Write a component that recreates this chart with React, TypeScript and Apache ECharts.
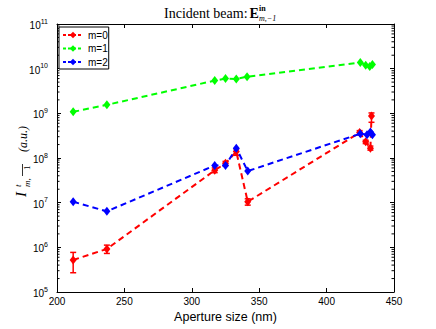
import React, { useEffect, useRef } from "react";
import * as echarts from "echarts";

const seriesNames = ["m=0", "m=1", "m=2"];
const seriesColors = ["#ff0000", "#00ff00", "#0000ff"];

// m=0 (red) with error bars
const redX = [212, 237, 317, 325, 333, 341.5, 424.5, 429, 432.5, 433.3];
const redY = [5.2e5, 9.2e5, 5.3e7, 7.6e7, 1.39e8, 1.05e7, 3.7e8, 2.3e8, 1.66e8, 8.7e8];
const redLow = [2.7e5, 7.3e5, 4.7e7, 6.8e7, 1.15e8, 8.8e6, 3.3e8, 2.1e8, 1.5e8, 6.3e8];
const redHigh = [7.7e5, 1.12e6, 6.0e7, 8.4e7, 1.6e8, 1.22e7, 4.1e8, 2.5e8, 1.85e8, 1.02e9];

// m=1 (green)
const greenX = [212, 237, 317, 325, 333, 341, 425, 429, 432, 434];
const greenY = [1.08e9, 1.55e9, 5.4e9, 6.0e9, 5.9e9, 6.6e9, 1.38e10, 1.2e10, 1.12e10, 1.24e10];

// m=2 (blue)
const blueX = [212, 237, 317, 325, 333, 341.5, 425, 430, 432.5, 434];
const blueY = [1.05e7, 6.4e6, 6.8e7, 6.8e7, 1.66e8, 5.1e7, 3.5e8, 3.3e8, 3.8e8, 3.3e8];

const xMin = 200;
const xMax = 450;
const xStep = 50;
const yMinExp = 5;
const yMaxExp = 11;
const minorMultipliers = [2, 3, 4, 5, 6, 7, 8, 9];

const SANS = "Liberation Sans, Arial, Helvetica, sans-serif";
const SERIF = "Liberation Serif, Times New Roman, serif";

export default function App() {
  const ref = useRef<HTMLDivElement>(null);

  useEffect(() => {
    if (!ref.current) return;
    const chart = echarts.init(ref.current, undefined, { renderer: "svg" });

    const minorData: number[][] = [];
    for (let e = yMinExp; e < yMaxExp; e++) {
      for (const m of minorMultipliers) minorData.push([xMin, m * Math.pow(10, e)]);
    }

    const lineSeries = (name: string, color: string, xs: number[], ys: number[], z: number) => ({
      name,
      type: "line",
      xAxisIndex: 0,
      yAxisIndex: 0,
      data: xs.map((x, i) => [x, ys[i]]),
      symbol: "diamond",
      symbolSize: [7, 9],
      showSymbol: true,
      z,
      lineStyle: { color, width: 2, type: [6, 4] },
      itemStyle: { color, borderWidth: 0 },
      emphasis: { disabled: true },
    });

    const axisCommonY = {
      type: "log",
      logBase: 10,
      min: Math.pow(10, yMinExp),
      max: Math.pow(10, yMaxExp),
      splitNumber: yMaxExp - yMinExp,
      splitLine: { show: false },
      minorTick: { show: false },
      axisLine: { show: true, lineStyle: { color: "#000", width: 1 } },
      axisTick: { show: true, inside: true, length: 4, lineStyle: { color: "#000", width: 1 } },
    };

    const axisCommonX = {
      type: "value",
      min: xMin,
      max: xMax,
      interval: xStep,
      splitLine: { show: false },
      axisLine: { show: true, onZero: false, lineStyle: { color: "#000", width: 1 } },
      axisTick: { show: true, inside: true, length: 4, lineStyle: { color: "#000", width: 1 } },
    };

    const option: any = {
      animation: false,
      backgroundColor: "#fff",
      grid: { left: 57, right: 42, top: 24, bottom: 37, containLabel: false },
      xAxis: [
        {
          ...axisCommonX,
          position: "bottom",
          axisLabel: { color: "#000", fontSize: 10, fontFamily: SANS, margin: 4 },
          name: "Aperture size (nm)",
          nameLocation: "middle",
          nameGap: 11,
          nameTextStyle: { color: "#000", fontSize: 12.5, fontFamily: SANS },
        },
        {
          ...axisCommonX,
          position: "top",
          axisLabel: { show: false },
        },
      ],
      yAxis: [
        {
          ...axisCommonY,
          position: "left",
          axisLabel: {
            margin: 9,
            formatter: (v: number) => `{b|10}{s|${Math.round(Math.log10(v))}}`,
            rich: {
              b: { fontSize: 10, fontFamily: SANS, color: "#000", padding: [3, 0, 0, 0], verticalAlign: "bottom" },
              s: { fontSize: 7, fontFamily: SANS, color: "#000", verticalAlign: "top" },
            },
          },
        },
        {
          ...axisCommonY,
          position: "right",
          axisLabel: { show: false },
        },
      ],
      legend: {
        data: seriesNames,
        orient: "vertical",
        left: 59,
        top: 27,
        itemWidth: 20,
        itemHeight: 8,
        itemGap: 3.5,
        padding: [3, 1, 2, 3],
        borderColor: "#000",
        borderWidth: 1,
        backgroundColor: "#fff",
        lineStyle: { type: [3, 2], width: 2 },
        textStyle: { color: "#000", fontSize: 10, fontFamily: SANS },
        selectedMode: false,
      },
      graphic: [
        { type: "text", x: 164, y: 13.5, style: { text: "Incident beam:", fontFamily: SERIF, fontSize: 14, fill: "#000", align: "left", verticalAlign: "middle" } },
        { type: "text", x: 249.5, y: 13.5, style: { text: "E", fontFamily: SERIF, fontWeight: "bold", fontSize: 14, fill: "#000", align: "left", verticalAlign: "middle" } },
        { type: "text", x: 259, y: 8.5, style: { text: "in", fontFamily: SERIF, fontWeight: "bold", fontSize: 8, fill: "#000", align: "left", verticalAlign: "middle" } },
        { type: "text", x: 259, y: 18.5, style: { text: "m,−1", fontFamily: SERIF, fontStyle: "italic", fontSize: 8, fill: "#000", align: "left", verticalAlign: "middle" } },
        {
          type: "group",
          x: 26,
          y: 198,
          rotation: Math.PI / 2,
          children: [
            { type: "text", x: 1, y: -5, style: { text: "I", fontFamily: SERIF, fontStyle: "italic", fontSize: 15, fill: "#000", align: "left", verticalAlign: "middle" } },
            { type: "text", x: 11, y: -8, style: { text: "t", fontFamily: SERIF, fontStyle: "italic", fontSize: 9, fill: "#000", align: "left", verticalAlign: "middle" } },
            { type: "text", x: 11, y: 1, style: { text: "m,", fontFamily: SERIF, fontStyle: "italic", fontSize: 9, fill: "#000", align: "left", verticalAlign: "middle" } },
            { type: "text", x: 28, y: 1, style: { text: "1", fontFamily: SERIF, fontSize: 9, fill: "#000", align: "left", verticalAlign: "middle" } },
            { type: "line", shape: { x1: 22, y1: -3.5, x2: 34, y2: -3.5 }, style: { stroke: "#000", lineWidth: 0.8 } },
            { type: "text", x: 46, y: -3, style: { text: "(a.u.)", fontFamily: SERIF, fontStyle: "italic", fontSize: 12, fill: "#000", align: "left", verticalAlign: "middle" } },
          ],
        },
      ],
      series: [
        lineSeries(seriesNames[0], seriesColors[0], redX, redY, 3),
        {
          name: "m=0 err",
          type: "custom",
          xAxisIndex: 0,
          yAxisIndex: 0,
          z: 3,
          data: redX.map((x, i) => [x, redLow[i], redHigh[i]]),
          encode: { x: 0, y: [1, 2] },
          renderItem: (_p: any, api: any) => {
            const lo = api.coord([api.value(0), api.value(1)]);
            const hi = api.coord([api.value(0), api.value(2)]);
            const c = 3;
            const st = { stroke: seriesColors[0], lineWidth: 1.5 };
            return {
              type: "group",
              children: [
                { type: "line", shape: { x1: lo[0], y1: lo[1], x2: hi[0], y2: hi[1] }, style: st },
                { type: "line", shape: { x1: lo[0] - c, y1: lo[1], x2: lo[0] + c, y2: lo[1] }, style: st },
                { type: "line", shape: { x1: hi[0] - c, y1: hi[1], x2: hi[0] + c, y2: hi[1] }, style: st },
              ],
            };
          },
        },
        lineSeries(seriesNames[1], seriesColors[1], greenX, greenY, 4),
        lineSeries(seriesNames[2], seriesColors[2], blueX, blueY, 5),
        {
          name: "minor ticks",
          type: "custom",
          xAxisIndex: 0,
          yAxisIndex: 0,
          z: 1,
          silent: true,
          data: minorData,
          encode: { x: 0, y: 1 },
          renderItem: (_p: any, api: any) => {
            const l = api.coord([xMin, api.value(1)]);
            const r = api.coord([xMax, api.value(1)]);
            const st = { stroke: "#000", lineWidth: 1 };
            return {
              type: "group",
              children: [
                { type: "line", shape: { x1: l[0], y1: l[1], x2: l[0] + 2.5, y2: l[1] }, style: st },
                { type: "line", shape: { x1: r[0] - 2.5, y1: r[1], x2: r[0], y2: r[1] }, style: st },
              ],
            };
          },
        },
      ],
    };

    chart.setOption(option);
    return () => chart.dispose();
  }, []);

  return (
    <div
      ref={ref}
      style={{ position: "absolute", left: 0, top: 0, width: 436, height: 329, background: "#fff" }}
    />
  );
}
